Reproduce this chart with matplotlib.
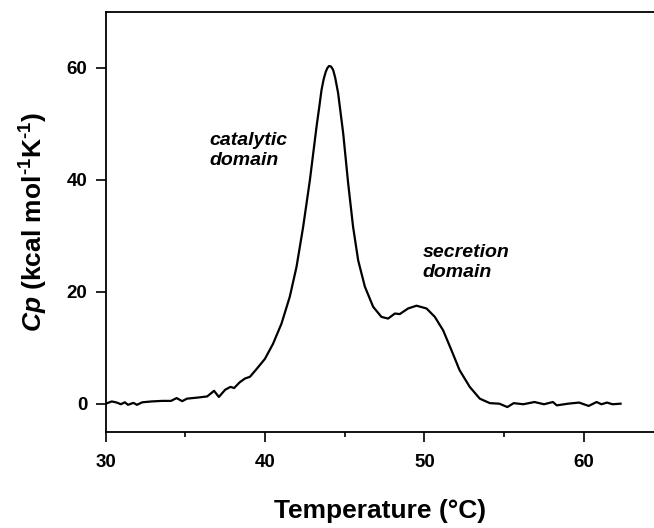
import numpy as np
import matplotlib
matplotlib.use('Agg')
import matplotlib.pyplot as plt
from matplotlib.ticker import MultipleLocator

plt.rcParams['font.family'] = ['Liberation Sans', 'DejaVu Sans']
plt.rcParams['font.weight'] = 'bold'
plt.rcParams['mathtext.fontset'] = 'custom'
plt.rcParams['mathtext.rm'] = 'Liberation Sans:bold'
plt.rcParams['mathtext.it'] = 'Liberation Sans:bold:italic'
plt.rcParams['mathtext.bf'] = 'Liberation Sans:bold'

# DSC trace
temp = [30.0, 30.38, 30.7, 30.95, 31.2, 31.4, 31.74, 31.96, 32.3, 32.87, 33.54, 34.1,
        34.45, 34.8, 35.1, 35.8, 36.37, 36.8, 37.1, 37.5, 37.83, 38.06, 38.4, 38.74,
        39.05, 39.47, 39.99, 40.5, 41.03, 41.55, 41.97, 42.39, 42.81, 43.23, 43.4,
        43.54, 43.68, 43.81, 43.92, 44.02, 44.14, 44.27, 44.4, 44.58, 44.9, 45.21,
        45.52, 45.84, 46.26, 46.78, 47.3, 47.72, 48.14, 48.45, 48.97, 49.5, 50.13,
        50.65, 51.17, 51.7, 52.2, 52.84, 53.47, 54.1, 54.7, 55.2, 55.6, 56.2, 56.9,
        57.5, 58.06, 58.3, 59.0, 59.7, 60.3, 60.8, 61.1, 61.45, 61.8, 62.3]
cp = [0.0, 0.4, 0.2, -0.1, 0.25, -0.2, 0.15, -0.2, 0.25, 0.4, 0.5, 0.5,
      1.0, 0.45, 0.9, 1.1, 1.3, 2.3, 1.2, 2.5, 3.0, 2.8, 3.8, 4.5,
      4.8, 6.2, 8.0, 10.7, 14.3, 19.1, 24.4, 31.6, 39.9, 49.5, 53.0,
      56.0, 58.0, 59.3, 60.0, 60.3, 60.2, 59.6, 58.2, 55.5, 48.3, 39.4,
      31.6, 25.6, 20.9, 17.3, 15.5, 15.2, 16.1, 16.0, 17.0, 17.5, 17.0,
      15.5, 13.1, 9.5, 6.0, 3.0, 0.9, 0.1, 0.0, -0.6, 0.1, -0.1, 0.3,
      -0.1, 0.3, -0.3, 0.0, 0.2, -0.4, 0.3, -0.1, 0.2, -0.1, 0.0]

xticks = [30, 40, 50, 60]
yticks = [0, 20, 40, 60]

fig = plt.figure(figsize=(6.54, 5.28), dpi=100)
ax = fig.add_axes([0.1616, 0.1824, 0.8384, 0.7955])

ax.plot(temp, cp, color='black', lw=1.6)

ax.set_xlim(30, 64.4)
ax.set_ylim(-5, 70)
ax.set_xticks(xticks)
ax.set_yticks(yticks)
ax.xaxis.set_minor_locator(MultipleLocator(5))
ax.tick_params(which='major', direction='out', length=7.2, width=1.2, labelsize=13.5)
ax.tick_params(axis='x', which='major', pad=9)
ax.tick_params(axis='y', which='major', pad=6)
ax.tick_params(which='minor', direction='out', length=3.6, width=1.2)
ax.spines['right'].set_visible(False)
for s in ['left', 'bottom', 'top']:
    ax.spines[s].set_linewidth(1.3)

ax.set_xlabel('Temperature (°C)', fontsize=19, fontweight='bold', labelpad=20)
ax.set_ylabel(r'$\mathit{Cp}$ (kcal mol$^{\text{-}1}$K$^{\text{-}1}$)', fontsize=19,
              fontweight='bold', labelpad=12)

ax.text(36.48, 48.6, 'catalytic\ndomain', fontsize=14, style='italic',
        fontweight='bold', ha='left', va='top', linespacing=1.3)
ax.text(49.87, 28.6, 'secretion\ndomain', fontsize=14, style='italic',
        fontweight='bold', ha='left', va='top', linespacing=1.3)

fig.savefig('out.png', dpi=100)
